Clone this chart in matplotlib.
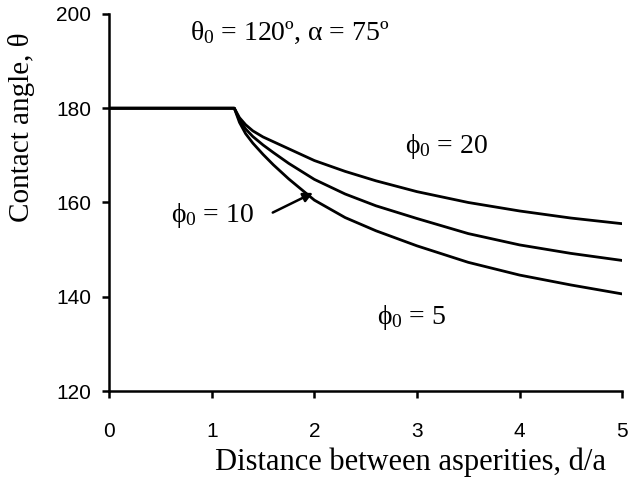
#!/usr/bin/env python3
"""Contact angle versus distance between asperities."""

import matplotlib
matplotlib.use('Agg')
import matplotlib.pyplot as plt

plt.rcParams['mathtext.fontset'] = 'custom'
plt.rcParams['mathtext.rm'] = 'Liberation Serif'
plt.rcParams['mathtext.it'] = 'Liberation Serif'

d = [0, 1.22, 1.27, 1.33, 1.4, 1.5, 1.6, 1.75, 2.0, 2.3, 2.6, 3.0, 3.5,
     4.0, 4.5, 5.0]
theta_phi20 = [180, 180, 178.0, 176.5, 175.2, 173.9, 172.9, 171.4, 168.9,
               166.6, 164.6, 162.3, 160.0, 158.2, 156.7, 155.5]
theta_phi10 = [180, 180, 177.5, 175.6, 174.0, 172.2, 170.6, 168.3, 164.9,
               161.8, 159.3, 156.6, 153.4, 151.0, 149.2, 147.7]
theta_phi5 = [180, 180, 177.0, 174.6, 172.6, 170.2, 168.0, 165.0, 160.5,
              156.8, 154.0, 150.8, 147.3, 144.6, 142.5, 140.6]

fig = plt.figure(figsize=(6.31, 4.8), dpi=100)
ax = fig.add_axes([0.173, 0.1854, 0.813, 0.7855])

for y in (theta_phi20, theta_phi10, theta_phi5):
    ax.plot(d, y, color='black', lw=2)

ax.set_xlim(0, 5)
ax.set_ylim(120, 200)
ax.set_xticks(range(0, 6))
ax.set_yticks(range(120, 201, 20))
ax.spines['top'].set_visible(False)
ax.spines['right'].set_visible(False)
ax.spines['left'].set_linewidth(1.8)
ax.spines['bottom'].set_linewidth(1.8)
ax.tick_params(direction='out', length=5, width=1.8, labelsize=15)
ax.tick_params(axis='x', pad=17)
ax.tick_params(axis='y', pad=8)
for lab in ax.get_xticklabels() + ax.get_yticklabels():
    lab.set_family('Liberation Sans')

serif = 'Liberation Serif'
ax.set_xlabel('Distance between asperities, d/a', family=serif, fontsize=22,
              va='center', ha='center')
ax.xaxis.set_label_coords(0.587, -0.189)
ax.set_ylabel('Contact angle, \u03b8', family=serif, fontsize=21,
              va='center', ha='center')
ax.yaxis.set_label_coords(-0.1715, 0.70)

ax.text(0.79, 196, '$\\theta_0$ = 120\u00ba, \u03b1 = 75\u00ba',
        family=serif, fontsize=20, va='center')
ax.text(2.88, 171.9, r'$\phi_0$ = 20', family=serif, fontsize=20, va='center')
ax.text(0.6, 157.2, r'$\phi_0$ = 10', family=serif, fontsize=20, va='center')
ax.text(2.61, 135.7, r'$\phi_0$ = 5', family=serif, fontsize=20, va='center')
ax.annotate('', xy=(2.01, 162.3), xytext=(1.57, 157.6),
            arrowprops=dict(arrowstyle='-|>', color='black', lw=1.8,
                            mutation_scale=14))

fig.savefig('out.png', dpi=100)
